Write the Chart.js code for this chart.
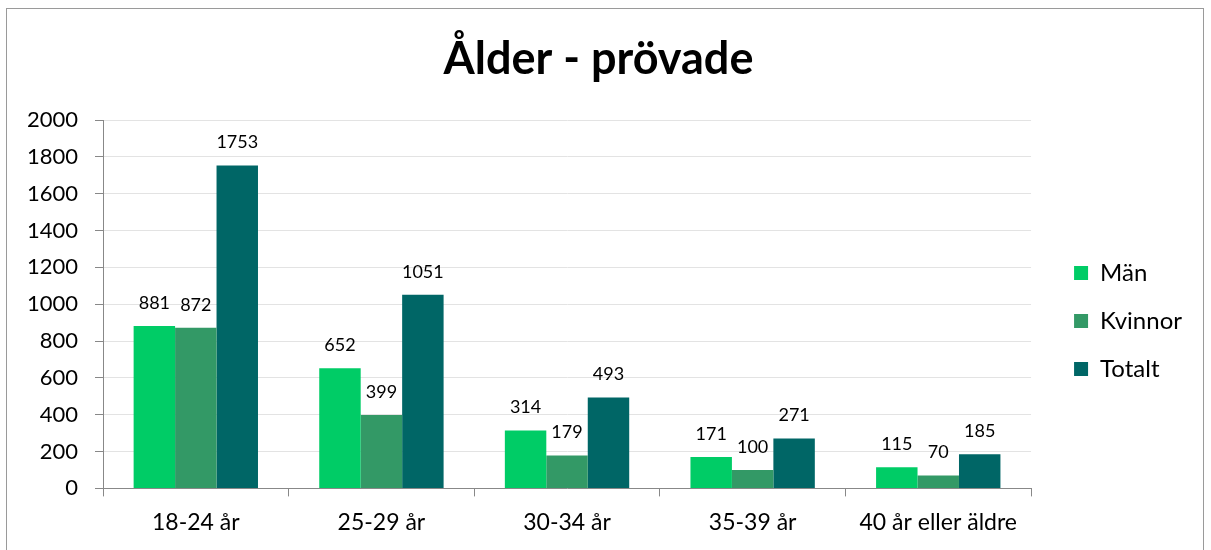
<!DOCTYPE html>
<html lang="sv">
<head>
    <meta charset="UTF-8">
    <title>Ålder - prövade</title>
    <script src="https://cdn.jsdelivr.net/npm/chart.js"></script>
    <style>
        html, body {
            margin: 0;
            padding: 0;
            background: #ffffff;
            overflow: hidden;
        }
        #frame {
            position: absolute;
            left: 6px;
            top: 8px;
            width: 1198px;
            height: 600px;
            border: 1px solid #9a9a9a;
            box-sizing: border-box;
        }
        #wrap {
            position: absolute;
            left: 0;
            top: 0;
            width: 1211px;
            height: 550px;
        }
    </style>
</head>
<body>
    <div id="frame"></div>
    <div id="wrap"><canvas id="ageChart"></canvas></div>

    <script>
        // data
        const categories = ['18-24 år', '25-29 år', '30-34 år', '35-39 år', '40 år eller äldre'];
        const man = [881, 652, 314, 171, 115];
        const kvinnor = [872, 399, 179, 100, 70];
        const totalt = [1753, 1051, 493, 271, 185];
        const seriesNames = ['Män', 'Kvinnor', 'Totalt'];
        const seriesColors = ['#00cc66', '#339966', '#006666'];

        const fontFamily = 'Lato, "Open Sans", sans-serif';

        // value labels on top of each bar
        const valueLabels = {
            id: 'valueLabels',
            afterDatasetsDraw(chart) {
                const ctx = chart.ctx;
                ctx.save();
                ctx.font = '18px ' + fontFamily;
                ctx.fillStyle = '#000000';
                ctx.textAlign = 'center';
                ctx.textBaseline = 'middle';
                chart.data.datasets.forEach((ds, i) => {
                    chart.getDatasetMeta(i).data.forEach((bar, j) => {
                        ctx.fillText(String(ds.data[j]), bar.x, bar.y - 23);
                    });
                });
                ctx.restore();
            }
        };

        // nudge the legend a bit right and down, like the Excel original
        const legendNudge = {
            id: 'legendNudge',
            afterLayout(chart) {
                const lg = chart.legend;
                if (!lg) return;
                lg.left += 19; lg.right += 19;
                lg.top += 42; lg.bottom += 42;
            }
        };

        const ctx = document.getElementById('ageChart').getContext('2d');
        const ageChart = new Chart(ctx, {
            type: 'bar',
            data: {
                labels: categories,
                datasets: [man, kvinnor, totalt].map((vals, i) => ({
                    label: seriesNames[i],
                    data: vals,
                    backgroundColor: seriesColors[i],
                    borderWidth: 0,
                    categoryPercentage: 0.67,
                    barPercentage: 1.0
                }))
            },
            options: {
                responsive: true,
                maintainAspectRatio: false,
                animation: false,
                layout: {
                    padding: { left: 24, right: 38, top: 10, bottom: 2 }
                },
                plugins: {
                    title: {
                        display: true,
                        text: 'Ålder - prövade',
                        color: '#000000',
                        font: { family: fontFamily, size: 45, weight: 'bold' },
                        padding: { top: 22, bottom: 34 }
                    },
                    legend: {
                        position: 'right',
                        labels: {
                            boxWidth: 14,
                            boxHeight: 14,
                            padding: 24,
                            color: '#000000',
                            font: { family: fontFamily, size: 24 }
                        }
                    },
                    tooltip: { enabled: false }
                },
                scales: {
                    x: {
                        grid: {
                            drawOnChartArea: false,
                            color: '#888888',
                            tickLength: 8
                        },
                        border: { color: '#888888' },
                        ticks: {
                            color: '#000000',
                            padding: 12,
                            font: { family: fontFamily, size: 23 }
                        }
                    },
                    y: {
                        min: 0,
                        max: 2000,
                        afterFit: (scale) => { scale.width = 79; },
                        grid: {
                            color: '#e3e3e3',
                            tickColor: '#888888',
                            tickLength: 8
                        },
                        border: { color: '#888888' },
                        ticks: {
                            stepSize: 200,
                            color: '#000000',
                            padding: 17,
                            font: { family: fontFamily, size: 22 },
                            callback: (v) => String(v)
                        }
                    }
                }
            },
            plugins: [valueLabels, legendNudge]
        });
    </script>
</body>
</html>
